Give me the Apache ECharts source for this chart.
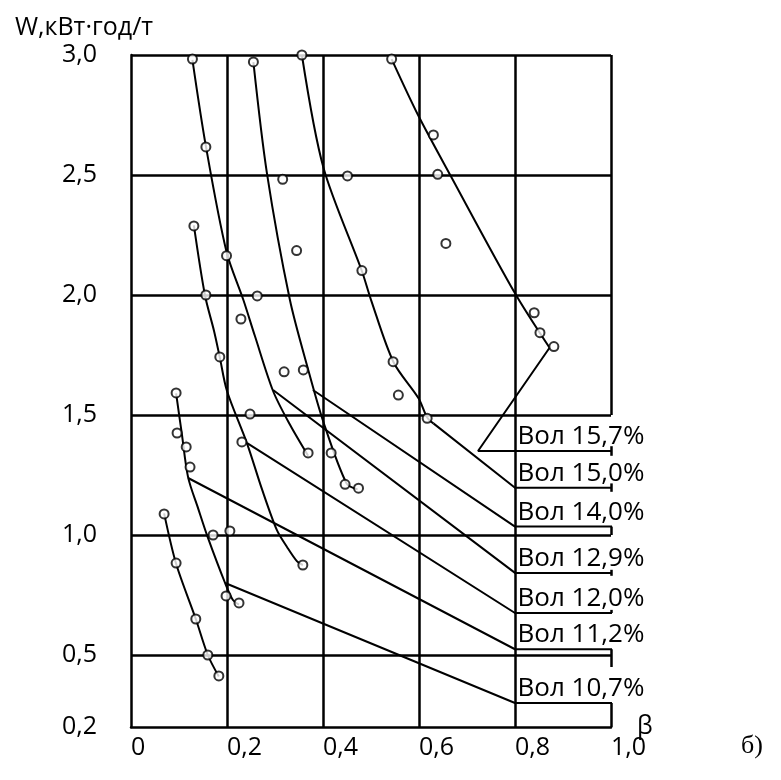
<!DOCTYPE html>
<html><head><meta charset="utf-8">
<script src="https://cdn.jsdelivr.net/npm/echarts@6/dist/echarts.min.js"></script>
<style>html,body{margin:0;padding:0;background:#fff}#c{width:781px;height:780px}</style>
</head><body><div id="c"></div>
<script>
// ---- data ----
const xTicks = [0, 0.2, 0.4, 0.6, 0.8, 1.0];
const yTickLabels = [0.2, 0.5, 1.0, 1.5, 2.0, 2.5, 3.0];
const hGrid = [0.5, 1.0, 1.5, 2.0, 2.5, 3.0];

// fitted curves
const curve0 = [[0.069,1.09],[0.094,0.88],[0.135,0.65],[0.160,0.50],[0.183,0.41]];
const curve1 = [[0.094,1.59],[0.106,1.42],[0.119,1.24],[0.140,1.11],[0.160,0.99],[0.196,0.80],[0.212,0.73],[0.225,0.71]];
const curve2 = [[0.131,2.29],[0.154,2.00],[0.173,1.85],[0.185,1.74],[0.200,1.60],[0.242,1.38],[0.273,1.19],[0.304,1.02],[0.325,0.95],[0.346,0.89],[0.358,0.875]];
const curve3 = [[0.128,2.98],[0.156,2.62],[0.199,2.18],[0.234,1.98],[0.258,1.83],[0.296,1.60],[0.331,1.46],[0.369,1.33]];
const curve4 = [[0.255,2.97],[0.283,2.51],[0.331,1.98],[0.369,1.69],[0.401,1.47],[0.449,1.215],[0.472,1.19]];
const curve5 = [[0.356,3.0],[0.401,2.53],[0.481,2.10],[0.500,1.98],[0.547,1.72],[0.599,1.57],[0.617,1.49],[0.630,1.465]];
const curve6 = [[0.543,2.983],[0.598,2.75],[0.665,2.50],[0.800,2.007],[0.872,1.78]];

// measured points
const observed = [
 [0.128,2.983],[0.255,2.971],[0.356,3.0],[0.543,2.983],[0.156,2.617],[0.131,2.288],[0.199,2.164],
 [0.156,2.0],[0.263,1.996],[0.451,2.496],[0.316,2.482],[0.345,2.185],[0.481,2.102],[0.630,2.667],
 [0.639,2.503],[0.656,2.215],[0.840,1.926],[0.852,1.843],[0.881,1.785],[0.546,1.722],[0.557,1.583],
 [0.319,1.680],[0.359,1.688],[0.617,1.486],[0.446,1.211],[0.474,1.195],[0.229,1.90],[0.185,1.742],
 [0.094,1.592],[0.248,1.504],[0.096,1.425],[0.231,1.388],[0.115,1.367],[0.369,1.342],[0.123,1.283],
 [0.417,1.342],[0.069,1.088],[0.171,1.0],[0.206,1.017],[0.094,0.883],[0.135,0.65],[0.160,0.50],
 [0.183,0.413],[0.198,0.746],[0.225,0.717],[0.358,0.875]
];

// labels with leader lines
const labelNames = ['Вол 15,7%','Вол 15,0%','Вол 14,0%','Вол 12,9%','Вол 12,0%','Вол 11,2%','Вол 10,7%'];
const labelY = [1.35, 1.197, 1.035, 0.842, 0.675, 0.524, 0.30];
const leaderStart = [[0.872,1.78],[0.630,1.465],[0.379,1.604],[0.296,1.604],[0.242,1.383],[0.119,1.2375],[0.196,0.80]];
const underlineStartX = [0.723, 0.8, 0.8, 0.8, 0.8, 0.8, 0.8];
const underlineEndX = [1.102, 1.102, 1.102, 1.102, 1.096, 1.108, 1.102];
const labelAnchorX = 0.8;

// visible pieces of the right frame edge (x = 1.0)
const rightEdgeSegments = [[3.0,1.5],[1.37,1.33],[1.215,1.18],[1.035,1.0],[0.855,0.83],[0.688,0.675],[0.524,0.45],[0.30,0.2]];

// ---- chart ----
const FONT = 'Open Sans';
const BLACK = '#000';
const fmt = v => v.toFixed(1).replace('.', ',');

const series = [];
// grid lines (horizontal) and right frame pieces
series.push({
  type: 'line', data: [[0, 3.0]], symbol: 'none', lineStyle: {width: 0}, z: 1, silent: true,
  markLine: {
    silent: true, symbol: 'none', label: {show: false}, animation: false,
    lineStyle: {color: BLACK, width: 2.5, type: 'solid'},
    data: hGrid.map(v => ({yAxis: v})).concat(
      rightEdgeSegments.map(s => [{coord: [1.0, s[0]]}, {coord: [1.0, s[1]]}]))
  }
});
[curve0, curve1, curve2, curve3, curve4, curve5, curve6].forEach(c => {
  series.push({type: 'line', data: c, smooth: 0.3, symbol: 'none', z: 3,
    lineStyle: {color: BLACK, width: 2}});
});
labelNames.forEach((n, i) => {
  series.push({type: 'line', clip: false, symbol: 'none', z: 3,
    lineStyle: {color: BLACK, width: 2},
    data: [leaderStart[i], [underlineStartX[i], labelY[i]], [underlineEndX[i], labelY[i]]]});
});
series.push({
  type: 'scatter', z: 6, symbol: 'rect', symbolSize: 1,
  itemStyle: {color: BLACK},
  label: {show: true, formatter: '{b}', position: [3, -1], align: 'left', verticalAlign: 'bottom',
    fontFamily: FONT, fontSize: 26, color: BLACK, opacity: 1},
  data: labelNames.map((n, i) => ({name: n, value: [labelAnchorX, labelY[i]]}))
});
series.push({
  type: 'scatter', z: 5, data: observed, symbol: 'circle', symbolSize: 9,
  itemStyle: {color: '#fff', borderColor: BLACK, borderWidth: 2}
});

const chart = echarts.init(document.getElementById('c'), null, {renderer: 'canvas'});
chart.setOption({
  animation: false,
  backgroundColor: '#fff',
  title: [
    {text: 'W,кВт·год/т', left: 10, top: 10,
      textStyle: {fontFamily: FONT, fontSize: 25, fontWeight: 'normal', color: BLACK}},
    {text: 'б)', left: 736, top: 728,
      textStyle: {fontFamily: 'Liberation Serif', fontSize: 26, fontWeight: 'normal', color: BLACK}}
  ],
  grid: {left: 131, top: 55, width: 480, height: 672},
  xAxis: {
    type: 'value', min: xTicks[0], max: xTicks[xTicks.length - 1], interval: 0.2,
    axisLine: {show: true, onZero: false, lineStyle: {color: BLACK, width: 2.5}},
    axisTick: {show: false},
    splitLine: {show: true, showMinLine: false, showMaxLine: false, lineStyle: {color: BLACK, width: 2.5}},
    axisLabel: {align: 'left', margin: 8, fontFamily: FONT, fontSize: 25, color: BLACK,
      formatter: v => v === 0 ? '0' : fmt(v)},
    name: 'β', nameLocation: 'end', nameGap: 26, nameMoveOverlap: false,
    nameTextStyle: {fontFamily: FONT, fontSize: 25, color: BLACK, align: 'left', padding: [0, 0, 12, 0]}
  },
  yAxis: {
    type: 'value', min: 0.2, max: 3.0,
    axisLine: {show: true, onZero: false, lineStyle: {color: BLACK, width: 2.5}},
    axisTick: {show: false},
    splitLine: {show: false},
    axisLabel: {customValues: yTickLabels, margin: 34, fontFamily: FONT, fontSize: 25, color: BLACK,
      formatter: v => fmt(v)}
  },
  series: series
});
</script></body></html>
